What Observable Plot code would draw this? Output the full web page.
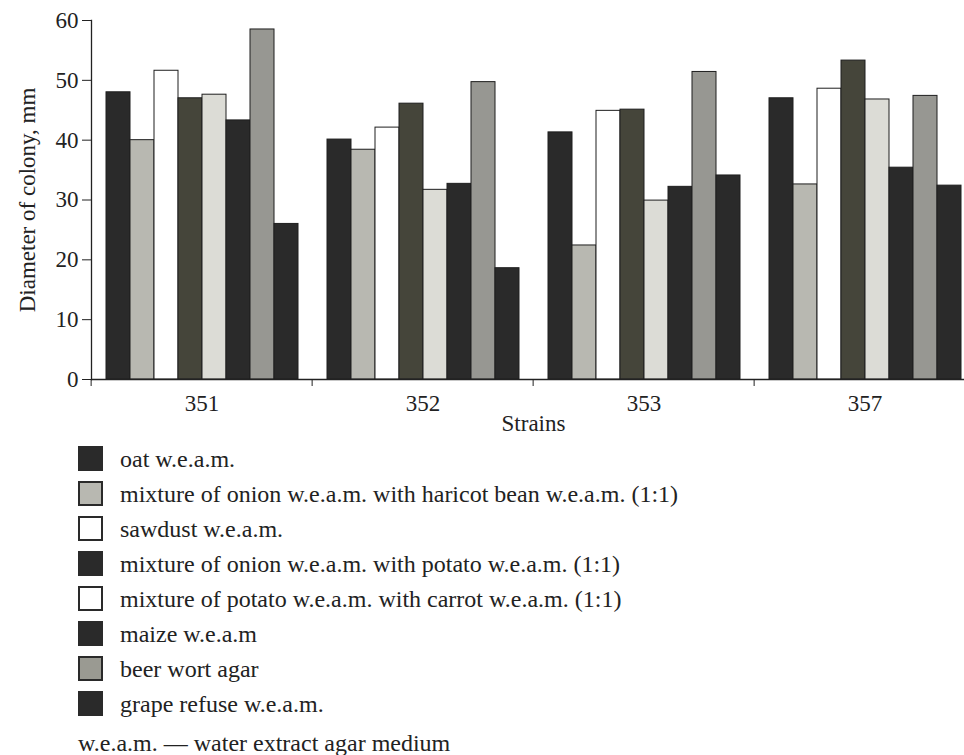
<!DOCTYPE html>
<html>
<head>
<meta charset="utf-8">
<script src="https://cdn.jsdelivr.net/npm/d3@7"></script>
<script src="https://cdn.jsdelivr.net/npm/@observablehq/plot@0.6"></script>
<style>
  html, body { margin: 0; padding: 0; background: #fff; overflow: hidden; }
  body { width: 964px; height: 755px; font-family: "Liberation Serif", "DejaVu Serif", serif; color: #222; }
  #chart svg { display: block; }
  #legend { margin-left: 78px; }
  .row { display: flex; align-items: flex-start; height: 35px; line-height: 35px; font-size: 24px; }
  .sw { width: 25px; height: 25px; box-sizing: border-box; margin-top: 4px; margin-right: 17px; flex: none; }
  .note { font-size: 24px; line-height: 35px; margin-top: 4px; }
</style>
</head>
<body>
<div id="chart"></div>
<div id="legend"></div>
<script>
const strains = ["351", "352", "353", "357"];
const media = [
  "oat w.e.a.m.",
  "mixture of onion w.e.a.m. with haricot bean w.e.a.m. (1:1)",
  "sawdust w.e.a.m.",
  "mixture of onion w.e.a.m. with potato w.e.a.m. (1:1)",
  "mixture of potato w.e.a.m. with carrot w.e.a.m. (1:1)",
  "maize w.e.a.m",
  "beer wort agar",
  "grape refuse w.e.a.m."
];
const fills = ["#2a2a2a", "#b8b8b1", "#ffffff", "#45453a", "#dcdcd6", "#2a2a2a", "#979792", "#2a2a2a"];
const swatchFills = ["#2a2a2a", "#b8b8b1", "#ffffff", "#2a2a2a", "#ffffff", "#2a2a2a", "#9a9a92", "#2a2a2a"];
// values per medium, in strain order 351, 352, 353, 357
const oat          = [48.0, 40.1, 41.3, 47.0];
const onionHaricot = [40.0, 38.4, 22.4, 32.6];
const sawdust      = [51.6, 42.1, 44.9, 48.6];
const onionPotato  = [47.0, 46.1, 45.1, 53.3];
const potatoCarrot = [47.6, 31.7, 29.9, 46.8];
const maize        = [43.3, 32.7, 32.2, 35.4];
const beerWort     = [58.5, 49.7, 51.4, 47.4];
const grapeRefuse  = [26.0, 18.6, 34.1, 32.4];
const yTicks = [0, 10, 20, 30, 40, 50, 60];

const series = [oat, onionHaricot, sawdust, onionPotato, potatoCarrot, maize, beerWort, grapeRefuse];
const data = [];
strains.forEach((s, j) => media.forEach((m, i) => data.push({strain: s, medium: m, value: series[i][j]})));

const W = 964, H = 442, ML = 89, MR = -12, MT = 20, MB = 63;
const step = (W - ML - MR) / strains.length;

const chart = Plot.plot({
  width: W, height: H,
  marginLeft: ML, marginRight: MR, marginTop: MT, marginBottom: MB,
  style: {fontFamily: "Liberation Serif", fontSize: "23px", color: "#222", background: "#fff"},
  fx: {domain: strains, padding: 0},
  x: {domain: media, paddingInner: 0, paddingOuter: 0.6, axis: null},
  y: {domain: [0, 60]},
  color: {domain: media, range: fills},
  marks: [
    Plot.barY(data, {fx: "strain", x: "medium", y: "value", fill: "medium", stroke: "#1e1e1e", strokeWidth: 1}),
    Plot.ruleY([0], {stroke: "#222", strokeWidth: 1.3}),
    Plot.frame({anchor: "left", facetAnchor: "left", stroke: "#222", strokeWidth: 1.3}),
    Plot.axisY({ticks: yTicks, tickSize: 9, tickPadding: 4, label: "Diameter of colony, mm", labelAnchor: "center", labelArrow: "none", labelOffset: 73}),
    Plot.axisFx({anchor: "bottom", tickSize: 0, tickPadding: 15, label: "Strains", labelAnchor: "center", labelArrow: "none", labelOffset: 51}),
    Plot.axisFx({anchor: "bottom", tickSize: 7, tickFormat: () => "", label: null, dx: -step / 2})
  ]
});
document.getElementById("chart").appendChild(chart);

const legend = document.getElementById("legend");
media.forEach((m, i) => {
  const row = document.createElement("div");
  row.className = "row";
  const sw = document.createElement("div");
  sw.className = "sw";
  sw.style.background = swatchFills[i];
  sw.style.border = (swatchFills[i] === "#2a2a2a") ? "none" : "2px solid #2a2a2a";
  const t = document.createElement("span");
  t.textContent = m;
  row.appendChild(sw); row.appendChild(t);
  legend.appendChild(row);
});
const note = document.createElement("div");
note.className = "note";
note.textContent = "w.e.a.m. — water extract agar medium";
legend.appendChild(note);
</script>
</body>
</html>
